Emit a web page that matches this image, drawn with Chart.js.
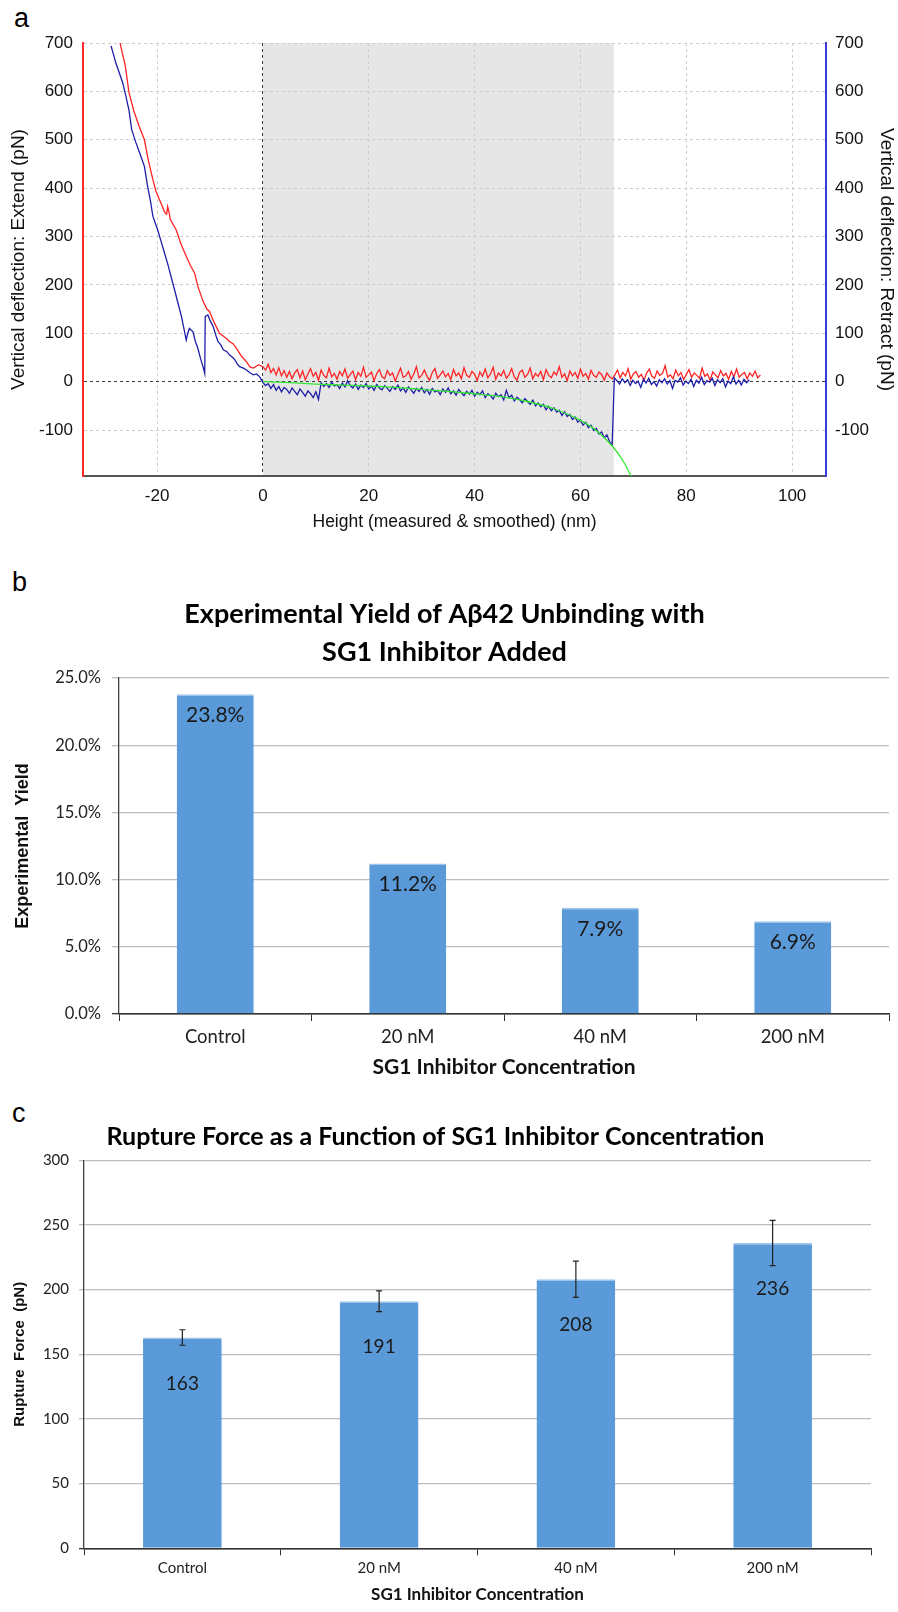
<!DOCTYPE html>
<html>
<head>
<meta charset="utf-8">
<script src="https://cdn.jsdelivr.net/npm/chart.js@4.4.1/dist/chart.umd.min.js"></script>
<style>
  body { margin: 0; background: #fff; width: 898px; height: 1612px; overflow: hidden; position: relative; }
  canvas { position: absolute; left: 0; }
  .letter { position: absolute; font-family: "Liberation Sans", Arial, sans-serif; font-size: 27px; color: #000; line-height: 1; }
</style>
</head>
<body>
<div class="letter" style="left:14px;top:5px">a</div>
<div class="letter" style="left:12px;top:569px">b</div>
<div class="letter" style="left:12px;top:1100px">c</div>
<canvas id="forceCurve" width="898" height="545" style="top:0"></canvas>
<canvas id="yieldChart" width="898" height="520" style="top:560px"></canvas>
<canvas id="forceChart" width="898" height="522" style="top:1090px"></canvas>
<script>
// ---- panel a: force curve, height (nm) vs deflection (pN) ----
const heightTicks = [-20, 0, 20, 40, 60, 80, 100];
const deflectionTicks = [-100, 0, 100, 200, 300, 400, 500, 600, 700];
const shadeRange = [0, 66.3];

// extend trace: approach part read point by point, then flat noisy part every 0.5 nm from 0
const extendApproach = [[-27,700],[-26.5,676],[-26,652],[-25.3,597],[-24.4,560],[-23.4,528],[-22.4,500],[-21.6,455],
  [-20.8,418],[-20.2,393],[-19.3,370],[-18.5,349],[-18.2,346],[-18,362],[-17.7,348],[-17.5,335],[-16.4,314],[-15.5,285],
  [-14.5,259],[-13.7,240],[-12.9,224],[-12.3,197],[-11.3,166],[-10.6,150],[-10.1,145],[-9.2,122],[-8.2,100],[-7.2,92],
  [-6.3,83],[-5.6,78],[-5,69],[-4,52],[-3.1,41],[-2.4,30],[-1.8,28],[-0.8,35]];
const extendFlatStart = 0;
const extendFlatStep = 0.5;
const extendFlat = [31,24,36,19,27,14,29,12,23,9,21,
  6,18,25,8,22,4,16,27,11,19, 3,24,13,8,28,10,17,5,21,12, 26,7,15,22,4,19,11,30,9,14,
  20,2,17,25,10,6,23,13,18,1, 15,28,9,12,21,5,16,31,8,13, 24,11,3,19,27,7,14,22,10,17,
  4,25,12,18,6,29,13,9,21,15, 2,20,11,26,8,16,30,5,18,12, 23,7,14,27,10,3,19,24,9,15,
  28,6,17,11,21,4,25,13,8,20, 14,31,9,16,2,22,12,19,7,26, 11,17,5,23,13,9,20,15,3,18,
  10,6,14,24,8,19,12,27,5,16, 21,9,15,3,18,26,11,7,22,13, 17,33,10,14,6,24,12,19,4,15,
  25,9,18,13,7,28,11,16,3,20, 14,8,23,12,17,5,21,10,26,9, 15,19,6,18,11,22,8,14];

// retract trace: approach part, noisy part on the surface (0..66 nm), free part after rupture
const retractApproach = [[-28.7,694],[-27.8,659],[-26.5,618],[-25.9,590],[-25.3,560],[-24.8,521],[-24,494],[-23.2,470],
  [-22.4,445],[-21.8,404],[-21.2,370],[-20.8,342],[-19.9,314],[-19.3,292],[-18.6,266],[-17.9,240],[-17.7,231],[-16.7,190],
  [-16,160],[-15.4,135],[-14.9,108],[-14.5,86],[-14.2,100],[-13.9,110],[-13.2,103],[-12.8,84],[-12.3,69],[-11.8,48],
  [-11.3,30],[-11,17],[-10.9,135],[-10.4,138],[-9.9,124],[-9.4,114],[-8.9,96],[-8.5,83],[-7.9,75],[-7.5,66],[-6.8,62],
  [-6.3,55],[-5.7,50],[-5.3,45],[-4.8,36],[-4.4,31],[-3.7,28],[-3.1,24],[-2.4,18],[-1.8,14],[-1.2,16],[-0.6,10]];
const retractSurfaceStart = 0;
const retractSurfaceStep = 0.5;
const retractSurface = [-2,-8,-4,-14,-6,-18,-10,-21,-12,-16,-24,-13,-20,-27,-15,-22,-30,-19,-25,-33,-21,-37,
  -2,-10,-4,-12,-1,-9,-6,-14,-3,-11, 2,-8,-13,-5,-16,-7,-12,-4,-15,-9,
  -18,-6,-13,-17,-8,-14,-20,-10,-16,-7, -19,-13,-22,-11,-17,-24,-14,-20,-12,-23,
  -16,-26,-14,-21,-18,-27,-15,-22,-13,-25, -19,-28,-16,-23,-29,-20,-26,-18,-30,-22,
  -27,-19,-33,-25,-29,-36,-24,-31,-27,-38, -18,-33,-28,-40,-32,-37,-44,-35,-41,-47,
  -38,-50,-44,-52,-47,-58,-51,-60,-54,-63, -59,-70,-62,-72,-68,-78,-73,-84,-79,-90,
  -84,-95,-90,-101,-97,-108,-104,-116,-110,-124, -130];
const retractFreeStart = 66.4;
const retractFreeStep = 0.5;
const retractFree = [8,2,-5,6,-2,4,-8,3,-4,1,-12,5,-3,7,-6,0,-9,4,-2,6,-5,2,-14,3,-1,8,
  -7,1,-4,5,-10,3,-3,9,-6,2,-1,7,-8,4,-2,6,-11,1,-4,10,-5,3,-7,5,-2,4];

// fitted curve (green)
const fitCurve = [[0,0],[5,-2],[10,-5],[15,-7],[20,-9],[25,-12],[30,-16],[35,-20],[40,-25],[45,-31],
  [50,-41],[55,-56],[60,-80],[63,-101],[66,-133],[68,-163],[69.8,-200]];

// ---- panel b ----
const concentrations = ['Control', '20 nM', '40 nM', '200 nM'];
const yieldPct = [23.8, 11.2, 7.9, 6.9];

// ---- panel c ----
const ruptureForce = [163, 191, 208, 236];
const ruptureErr = [6, 8, 14, 17.5];

function pairs(list) { return list.map(p => ({x: p[0], y: p[1]})); }
function sampled(start, step, values) { return values.map((v, i) => ({x: start + i * step, y: v})); }

const extendData = pairs(extendApproach).concat(sampled(extendFlatStart, extendFlatStep, extendFlat));
const retractData = pairs(retractApproach)
  .concat(sampled(retractSurfaceStart, retractSurfaceStep, retractSurface))
  .concat(sampled(retractFreeStart, retractFreeStep, retractFree));

const arial = 'Liberation Sans, Arial, sans-serif';
const calibri = 'Lato, "Open Sans", sans-serif';

const shadePlugin = {
  id: 'shade',
  beforeDraw(chart) {
    const {ctx, chartArea: a, scales: {x}} = chart;
    const x0 = x.getPixelForValue(shadeRange[0]);
    const x1 = x.getPixelForValue(shadeRange[1]);
    ctx.save();
    ctx.fillStyle = '#e6e6e6';
    ctx.fillRect(x0, a.top, x1 - x0, a.bottom - a.top);
    ctx.restore();
  }
};

const zeroDark = (ctx) => ctx.tick && ctx.tick.value === 0 ? '#3a3a3a' : '#cdcdcd';

new Chart(document.getElementById('forceCurve'), {
  type: 'line',
  data: {
    datasets: [
      { label: 'Fit', data: pairs(fitCurve), borderColor: '#33e633', borderWidth: 1.3, pointRadius: 0,
        yAxisID: 'yRetract', cubicInterpolationMode: 'monotone' },
      { label: 'Retract', data: retractData, borderColor: '#1e1ea8', borderWidth: 1.3, pointRadius: 0, yAxisID: 'yRetract' },
      { label: 'Extend', data: extendData, borderColor: '#ff2424', borderWidth: 1.3, pointRadius: 0, yAxisID: 'yExtend' }
    ]
  },
  options: {
    animation: false, responsive: false, events: [],
    layout: { padding: { top: 43, left: 0, right: 0, bottom: 0 } },
    plugins: { legend: { display: false }, tooltip: { enabled: false } },
    scales: {
      x: {
        type: 'linear', min: -34, max: 106.4,
        afterBuildTicks: s => { s.ticks = heightTicks.map(v => ({value: v})); },
        afterFit: s => { s.height = 69; },
        grid: { color: zeroDark, drawTicks: false },
        border: { color: '#555', width: 2, dash: [3, 3] },
        ticks: { color: '#111', font: { family: arial, size: 17 }, padding: 10, maxRotation: 0 },
        title: { display: true, text: 'Height (measured & smoothed) (nm)', color: '#111',
                 font: { family: arial, size: 17.5 }, padding: { top: 0, bottom: 12.5 } }
      },
      yExtend: {
        position: 'left', min: -195, max: 700,
        afterBuildTicks: s => { s.ticks = deflectionTicks.map(v => ({value: v})); },
        afterFit: s => { s.width = 83; },
        grid: { color: zeroDark, drawTicks: false },
        border: { color: '#ff2a2a', width: 2, dash: [3, 3] },
        ticks: { color: '#111', font: { family: arial, size: 17 }, padding: 10 },
        title: { display: true, text: 'Vertical deflection: Extend (pN)', color: '#111',
                 font: { family: arial, size: 19 }, padding: { top: 7, bottom: 0 } }
      },
      yRetract: {
        position: 'right', min: -195, max: 700,
        afterBuildTicks: s => { s.ticks = deflectionTicks.map(v => ({value: v})); },
        afterFit: s => { s.width = 72; },
        grid: { drawOnChartArea: false, drawTicks: false },
        border: { color: '#3a3ad6', width: 2 },
        ticks: { color: '#111', font: { family: arial, size: 17 }, padding: 9 },
        title: { display: true, text: 'Vertical deflection: Retract (pN)', color: '#111',
                 font: { family: arial, size: 19 }, padding: { top: 0, bottom: 0 } }
      }
    }
  },
  plugins: [shadePlugin]
});

// value labels inside the bars
function insideLabels(offset, fmt, size) {
  return {
    id: 'insideLabels',
    afterDatasetsDraw(chart) {
      const {ctx} = chart;
      const meta = chart.getDatasetMeta(0);
      const values = chart.data.datasets[0].data;
      ctx.save();
      ctx.fillStyle = '#1a1a1a';
      ctx.font = size + 'px ' + calibri;
      ctx.textAlign = 'center';
      ctx.textBaseline = 'middle';
      meta.data.forEach((bar, i) => ctx.fillText(fmt(values[i]), bar.x, bar.y + offset));
      ctx.restore();
    }
  };
}

const errorBars = {
  id: 'errorBars',
  afterDatasetsDraw(chart) {
    const {ctx, scales: {y}} = chart;
    const meta = chart.getDatasetMeta(0);
    ctx.save();
    ctx.strokeStyle = '#222';
    ctx.lineWidth = 1.2;
    meta.data.forEach((bar, i) => {
      const top = y.getPixelForValue(ruptureForce[i] + ruptureErr[i]);
      const bot = y.getPixelForValue(ruptureForce[i] - ruptureErr[i]);
      ctx.beginPath();
      ctx.moveTo(bar.x, top); ctx.lineTo(bar.x, bot);
      ctx.moveTo(bar.x - 3, top); ctx.lineTo(bar.x + 3, top);
      ctx.moveTo(bar.x - 3, bot); ctx.lineTo(bar.x + 3, bot);
      ctx.stroke();
    });
    ctx.restore();
  }
};

const barStyle = {
  backgroundColor: '#5b9ad8', borderColor: '#9cc3ea',
  borderWidth: { top: 1.5, left: 0, right: 0, bottom: 0 },
  categoryPercentage: 1, barPercentage: 0.4
};

new Chart(document.getElementById('yieldChart'), {
  type: 'bar',
  data: { labels: concentrations, datasets: [Object.assign({ data: yieldPct }, barStyle)] },
  options: {
    animation: false, responsive: false, events: [],
    layout: { padding: { top: 0, left: 0, right: 9, bottom: 0 } },
    plugins: {
      legend: { display: false }, tooltip: { enabled: false },
      title: { display: true, text: ['Experimental Yield of Aβ42 Unbinding with', 'SG1 Inhibitor Added'],
               color: '#000', font: { family: calibri, size: 27, weight: 'bold', lineHeight: 1.389 },
               padding: { top: 36, bottom: 7 } }
    },
    scales: {
      x: {
        afterFit: s => { s.height = 66; },
        grid: { drawOnChartArea: false, tickLength: 7, color: '#333', offset: true },
        border: { color: '#333', width: 1.5 },
        ticks: { color: '#222', font: { family: calibri, size: 18.5 }, padding: 5 },
        title: { display: true, text: 'SG1 Inhibitor Concentration', color: '#111',
                 font: { family: calibri, size: 21, weight: 'bold' }, padding: { top: 0, bottom: 0 } }
      },
      y: {
        min: 0, max: 25,
        afterFit: s => { s.width = 119; },
        grid: { color: c => c.tick && c.tick.value === 0 ? '#333' : '#bdbdbd', lineWidth: 1.3, tickLength: 7 },
        border: { color: '#404040', width: 1.3 },
        ticks: { stepSize: 5, color: '#222', font: { family: calibri, size: 16.5 }, padding: 11,
                 callback: v => v.toFixed(1) + '%' },
        title: { display: true, text: 'Experimental  Yield', color: '#111',
                 font: { family: arial, size: 18, weight: 'bold' }, padding: { top: 12, bottom: 0 } }
      }
    }
  },
  plugins: [insideLabels(21, v => v.toFixed(1) + '%', 21)]
});

new Chart(document.getElementById('forceChart'), {
  type: 'bar',
  data: { labels: concentrations, datasets: [Object.assign({ data: ruptureForce }, barStyle)] },
  options: {
    animation: false, responsive: false, events: [],
    layout: { padding: { top: 0, left: 0, right: 27, bottom: 0 } },
    plugins: {
      legend: { display: false }, tooltip: { enabled: false },
      title: { display: true, text: 'Rupture Force as a Function of SG1 Inhibitor Concentration',
               color: '#000', font: { family: calibri, size: 25, weight: 'bold', lineHeight: 1.2 },
               padding: { top: 31.7, bottom: 8.6 } }
    },
    scales: {
      x: {
        afterFit: s => { s.height = 63.7; },
        grid: { drawOnChartArea: false, tickLength: 7, color: '#333', offset: true },
        border: { color: '#333', width: 1.5 },
        ticks: { color: '#222', font: { family: calibri, size: 15 }, padding: 4 },
        title: { display: true, text: 'SG1 Inhibitor Concentration', color: '#111',
                 font: { family: calibri, size: 17, weight: 'bold' }, padding: { top: 0, bottom: 7 } }
      },
      y: {
        min: 0, max: 300,
        afterFit: s => { s.width = 84; },
        grid: { color: c => c.tick && c.tick.value === 0 ? '#333' : '#bdbdbd', lineWidth: 1.3, tickLength: 5 },
        border: { color: '#404040', width: 1.3 },
        ticks: { stepSize: 50, color: '#222', font: { family: calibri, size: 15 }, padding: 10 },
        title: { display: true, text: 'Rupture  Force  (pN)', color: '#111',
                 font: { family: arial, size: 15, weight: 'bold' }, padding: { top: 11, bottom: 0 } }
      }
    }
  },
  plugins: [errorBars, insideLabels(46, v => String(v), 19)]
});
</script>
</body>
</html>
